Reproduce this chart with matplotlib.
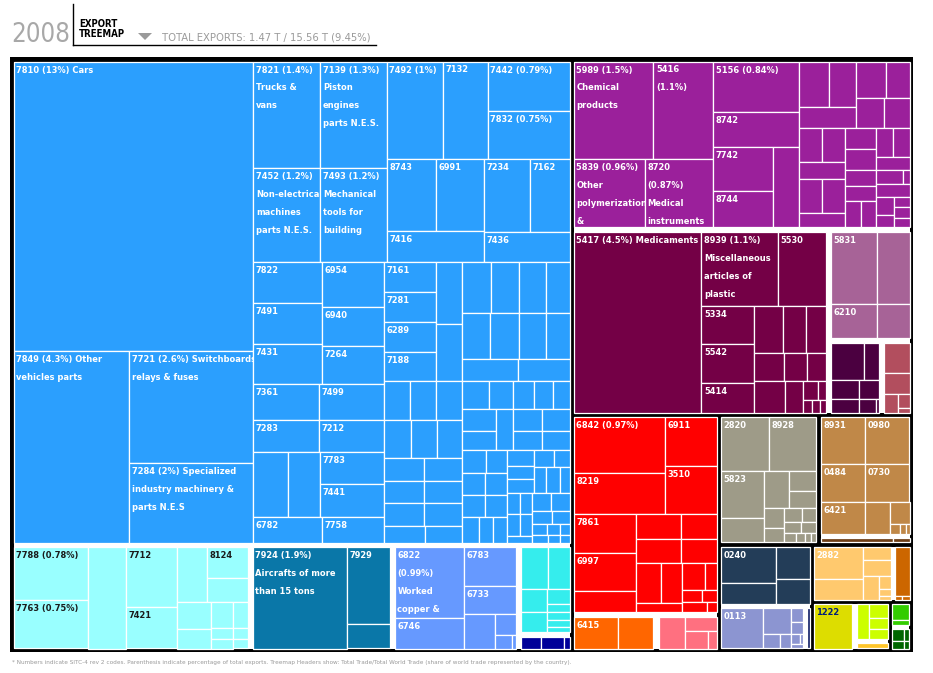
import matplotlib
matplotlib.use("Agg")
import matplotlib.pyplot as plt
from matplotlib import font_manager as fm
from matplotlib.patches import Rectangle, Polygon

# ---- header texts ----
YEAR = "2008"
TITLE = "EXPORT\nTREEMAP"
TOTALS = "TOTAL EXPORTS: 1.47 T / 15.56 T (9.45%)"
FOOTNOTE = ("* Numbers indicate SITC-4 rev 2 codes. Parenthesis indicate percentage of total exports. "
            "Treemap Headers show: Total Trade/Total World Trade (share of world trade represented by the country).")

# ---- data: share of total exports (%) per SITC-4 product ----
machinery_values = [
    12.70, 4.08, 2.56, 1.83,
    1.31, 1.30, 1.16, 1.15, 1.00, 0.80, 0.74, 0.72, 0.65, 0.64, 0.57, 0.62, 0.53, 0.48,
    0.52, 0.51, 0.51, 0.50, 0.44, 0.43, 0.43, 0.39, 0.42, 0.38, 0.42, 0.38, 0.38, 0.38, 0.33, 0.30,
    0.29, 0.29, 0.28, 0.28, 0.29, 0.27, 0.27, 0.26, 0.26, 0.22, 0.24, 0.24, 0.23, 0.20, 0.22, 0.20,
    0.19, 0.19, 0.19, 0.19, 0.18, 0.18, 0.17, 0.16, 0.17, 0.16, 0.17, 0.16, 0.13, 0.12,
    0.14, 0.13, 0.11, 0.10, 0.09, 0.13, 0.12, 0.13, 0.11, 0.11, 0.10, 0.10,
    0.10, 0.09, 0.09, 0.09, 0.09, 0.09, 0.08, 0.07, 0.07,
    0.075, 0.065, 0.065, 0.065, 0.05, 0.056, 0.065, 0.047,
    0.05, 0.045, 0.05, 0.045, 0.035,
    0.065, 0.06, 0.05, 0.045, 0.03, 0.025, 0.02, 0.025, 0.02, 0.015,
]
machinery_labels = [
    "7810 (13%) Cars", "7849 (4.3%) Other\nvehicles parts", "7721 (2.6%) Switchboards,\nrelays & fuses",
    "7284 (2%) Specialized\nindustry machinery &\nparts N.E.S",
    "7821 (1.4%)\nTrucks &\nvans", "7139 (1.3%)\nPiston\nengines\nparts N.E.S.",
    "7452 (1.2%)\nNon-electrical\nmachines\nparts N.E.S.", "7493 (1.2%)\nMechanical\ntools for\nbuilding",
    "7492 (1%)", "7132", "7442 (0.79%)", "7832 (0.75%)", "8743", "6991", "7416", "7234", "7162", "7436",
    "7822", "7491", "7431", "6954", "6940", "7264", "7361", "7283", "7499", "7212", "", "",
    "7783", "7441", "6782", "7758", "7161", "7281", "6289", "7188",
]
cyan_values = [0.72, 0.66, 0.70, 0.55, 0.39, 0.30, 0.23, 0.18, 0.17, 0.12, 0.107, 0.045, 0.041, 0.068, 0.029, 0.026]
cyan_labels = ["7788 (0.78%)", "7763 (0.75%)", "", "7712", "7421", "", "8124"]
teal_values = [1.76, 0.60, 0.19]
teal_labels = ["7924 (1.9%)\nAircrafts of more\nthan 15 tons", "7929"]
peri_values = [0.90, 0.38, 0.37, 0.26, 0.20, 0.082, 0.041, 0.008]
peri_labels = ["6822\n(0.99%)\nWorked\ncopper &", "6746", "6783", "6733"]
turq_values = [0.207, 0.169, 0.112, 0.064, 0.034, 0.092, 0.034, 0.026, 0.021]
navy_values = [0.045, 0.049, 0.013]

chem_values = [1.43, 1.07, 0.88, 0.85, 0.79, 0.56, 0.48, 0.40, 0.37,
               0.25, 0.23, 0.22, 0.20, 0.155, 0.157, 0.14,
               0.146, 0.146, 0.146, 0.142, 0.142, 0.12, 0.122, 0.122, 0.087, 0.087, 0.078, 0.073,
               0.092, 0.087, 0.08, 0.068, 0.018, 0.074, 0.06, 0.04, 0.03, 0.03, 0.025]
chem_labels = ["5989 (1.5%)\nChemical\nproducts", "5416\n(1.1%)", "5839 (0.96%)\nOther\npolymerization\n&",
               "8720\n(0.87%)\nMedical\ninstruments", "5156 (0.84%)", "8742", "7742", "8744"]
medic_values = [4.25, 1.04, 0.65, 0.37, 0.37, 0.29, 0.255, 0.20, 0.176, 0.157, 0.12, 0.10,
                0.185, 0.105, 0.05, 0.03, 0.02, 0.02, 0.015]
medic_labels = ["5417 (4.5%) Medicaments", "8939 (1.1%)\nMiscellaneous\narticles of\nplastic",
                "5530", "5334", "5542", "5414"]
mauve_values = [0.60, 0.43, 0.29, 0.21]
mauve_labels = ["5831", "", "6210"]
plum_values = [0.22, 0.10, 0.10, 0.071, 0.073, 0.047, 0.008]
rose_values = [0.136, 0.098, 0.046, 0.031, 0.011]

red_values = [0.93, 0.69, 0.46, 0.46, 0.45, 0.44, 0.24, 0.21, 0.17, 0.20, 0.16,
              0.18, 0.15, 0.08, 0.11, 0.06, 0.045, 0.033, 0.05, 0.02]
red_labels = ["6842 (0.97%)", "8219", "6911", "3510", "7861", "6997"]
orange_values = [0.25, 0.20]
orange_labels = ["6415"]
pink_values = [0.15, 0.078, 0.077, 0.03]
gray_values = [0.47, 0.47, 0.37, 0.19, 0.166, 0.097, 0.083, 0.071, 0.051,
               0.045, 0.036, 0.035, 0.03, 0.02, 0.015, 0.01, 0.008]
gray_labels = ["2820", "8928", "5823"]
brown_values = [0.38, 0.38, 0.31, 0.31, 0.26, 0.145, 0.078, 0.017, 0.01, 0.007]
brown_labels = ["8931", "0980", "0484", "0730", "6421"]
darkbrown_values = [0.054, 0.012]
slate_values = [0.36, 0.22, 0.20, 0.155]
slate_labels = ["0240"]
lavender_values = [0.31, 0.126, 0.045, 0.028, 0.031, 0.025, 0.018, 0.006, 0.009]
lavender_labels = ["0113"]
ink_values = [0.024]
apricot_values = [0.29, 0.19, 0.068, 0.078, 0.07, 0.03, 0.015, 0.01]
apricot_labels = ["2882"]
burnt_values = [0.13, 0.005, 0.006]
yellow_values = [0.31]
yellow_labels = ["1222"]
lime_values = [0.081, 0.05, 0.039, 0.035]
gold_values = [0.029]
green_values = [0.05, 0.016]
darkgreen_values = [0.027, 0.016, 0.011, 0.007]


def H(*k):
    return ("h", k)


def V(*k):
    return ("v", k)


# how the products of each group are nested (ints = a run of that many cells)
m_cars = V(1, H(1, 2))
m_top = H(V(2, 2), V(H(1, 1, 2), H(V(2, 1), V(2, 1))))
m_c1 = V(H(3, 3), H(2, 2), H(1, 1, 2), 2)
m_c2r = V(V(5, H(2, 1, V(2, 2))),
          H(V(2, 2, 2, 3), V(H(3, V(2, 3)), H(V(2, 2, 1), V(2, 2, 3, 3)))))
m_c2 = V(H(4, 2, V(4, 4, 2)), H(V(3, 3, 2, 2, 2, 2), m_c2r))
machinery_shape = H(m_cars, V(m_top, H(m_c1, m_c2)))
chem_shape = H(V(2, 2), V(1, 1, H(2, 1)),
               V(H(V(2, 1), V(2, 2)), H(V(2, 1, 2, 1), V(1, 1, 1, 1, 2), V(2, 1, 2, 1, H(2, 3)))))

GROUPS = {
    "machinery": (machinery_shape, machinery_values, machinery_labels, "#2b9ffe", "white"),
    "cyan": (H(2, 1, 2, V(H(1, 2), H(2, 3, 3))), cyan_values, cyan_labels, "#99ffff", "#1a1a1a"),
    "teal": (H(1, 2), teal_values, teal_labels, "#0a77a8", "white"),
    "periwinkle": (H(2, V(1, 1, H(1, V(1, 2)))), peri_values, peri_labels, "#6699ff", "white"),
    "turquoise": (V(2, H(1, 2), H(1, 3)), turq_values, [], "#35eded", "white"),
    "navy": (H(1, 1, 1), navy_values, [], "#000099", "white"),
    "chem": (chem_shape, chem_values, chem_labels, "#9b209b", "white"),
    "medic": (H(1, V(2, H(3, V(3, 3, H(1, 1, V(2, 3)))))), medic_values, medic_labels, "#740046", "white"),
    "mauve": (V(2, 2), mauve_values, mauve_labels, "#a76397", "white"),
    "plum": (V(2, 2, 3), plum_values, [], "#4b0040", "white"),
    "rose": (V(1, 1, H(1, 2)), rose_values, [], "#b24e5e", "white"),
    "red": (V(H(2, 2), H(3, V(2, 2, H(V(2, 1), V(2, 2, 2))))), red_values, red_labels, "#ff0000", "white"),
    "orange": (H(1, 1), orange_values, orange_labels, "#ff6600", "white"),
    "pink": (H(1, V(1, 2)), pink_values, [], "#ff7080", "white"),
    "gray": (V(2, H(2, V(H(1, 2), H(2, V(2, 2, 4))))), gray_values, gray_labels, "#9e9b88", "white"),
    "brown": (V(2, 2, H(1, 1, V(1, 3))), brown_values, brown_labels, "#c08848", "white"),
    "darkbrown": (H(1, 1), darkbrown_values, [], "#6e3e16", "white"),
    "slate": (H(2, 2), slate_values, slate_labels, "#233d58", "white"),
    "lavender": (H(1, V(1, 2), V(1, 1, 2, 1)), lavender_values, lavender_labels, "#8c95d1", "white"),
    "ink": (V(1), ink_values, [], "#1c2a6e", "white"),
    "apricot": (H(2, V(1, 1, H(1, 3))), apricot_values, apricot_labels, "#ffc96e", "white"),
    "burnt": (V(1, 2), burnt_values, [], "#cc6600", "white"),
    "yellow": (V(1), yellow_values, yellow_labels, "#dddd00", "#001f7a"),
    "lime": (H(1, 3), lime_values, [], "#ccff00", "white"),
    "gold": (V(1), gold_values, [], "#ffc52a", "white"),
    "green": (V(1, 1), green_values, [], "#33cc00", "white"),
    "darkgreen": (H(2, 2), darkgreen_values, [], "#006600", "white"),
}

K, Wh = "black", "white"
left = ("v", ["machinery", ("h", ["cyan", "teal", "periwinkle", ("v", ["turquoise", "navy"], 5, Wh)], 5, Wh)], 4, Wh)
purple = ("v", ["chem", ("h", ["medic", ("v", ["mauve", ("h", ["plum", "rose"], 5, Wh)], 5, Wh)], 5, Wh)], 5, Wh)
redsec = ("v", ["red", ("h", ["orange", "pink"], 6, Wh)], 5, Wh)
brownsec = ("v", ["brown", "darkbrown"], 4, Wh)
navlav = ("v", ["slate", ("h", ["lavender", "ink"], 4, Wh)], 4, Wh)
lorsec = ("h", ["apricot", "burnt"], 4, Wh)
yelsec = ("h", ["yellow", ("v", ["lime", "gold"], 4, Wh)], 5, Wh)
greensec = ("v", ["green", "darkgreen"], 4, Wh)
rest = ("v", [("h", ["gray", brownsec], 5, K),
              ("h", [navlav, ("v", [lorsec, ("h", [yelsec, greensec], 4, K)], 4, K)], 4, K)], 5, K)
right = ("v", [purple, ("h", [redsec, rest], 4, K)], 4, K)
ROOT = ("h", [left, right], 4, K)


def build(shape, ctx, grp, it):
    _, vals, labs, col, tc = grp
    if isinstance(shape, int):
        if shape == 1:
            i = next(it)
            return {"leaf": True, "v": vals[i], "lab": labs[i] if i < len(labs) else "", "c": col, "tc": tc}
        shape = ("v" if ctx == "h" else "h", (1,) * shape)
    kind, kids = shape
    return {"leaf": False, "kind": kind, "kids": [build(k, kind, grp, it) for k in kids],
            "gap": 0, "gc": None, "extra": 0.0}


def arrange(a):
    if isinstance(a, str):
        g = GROUPS[a]
        return build(g[0], "v", g, iter(range(len(g[1]))))
    kind, kids, gap, gc = a
    return {"leaf": False, "kind": kind, "kids": [arrange(k) for k in kids], "gap": gap, "gc": gc, "extra": 0.0}


def vsum(n):
    return n["v"] if n["leaf"] else sum(vsum(c) for c in n["kids"])


def place(n, x, y, w, h, k, out):
    if n["leaf"]:
        out.append((x, y, w, h, n))
        return
    if n["gc"]:
        out.append((x, y, w, h, n))
    kids, g = n["kids"], n["gap"]
    horiz = n["kind"] == "h"
    avail = max((w if horiz else h) - g * (len(kids) - 1), 0)
    wts = [k * vsum(c) + (0 if c["leaf"] else c["extra"]) for c in kids]
    tot = sum(wts)
    p = x if horiz else y
    for c, cw in zip(kids, wts):
        size = avail * cw / tot
        if horiz:
            place(c, p, y, size, h, k, out)
        else:
            place(c, x, p, w, size, k, out)
        p += size + g
    n["extra"] = g * (len(kids) - 1) * (h if horiz else w) + sum(c["extra"] for c in kids if not c["leaf"])


root = arrange(ROOT)
X0, Y0, X1, Y1 = 14, 61.5, 909.5, 648.5
for _ in range(6):
    k = ((X1 - X0) * (Y1 - Y0) - root["extra"]) / vsum(root)
    cells = []
    place(root, X0, Y0, X1 - X0, Y1 - Y0, k, cells)


# a condensed face looks closest to the original; use one if the system has it
def find_font(bold):
    for f in fm.fontManager.ttflist:
        st = str(f.stretch).lower()
        narrow = ("narrow" in f.name.lower() or "condensed" in f.name.lower()
                  or "condensed" in st or (st.isdigit() and int(st) < 500))
        wt = f.weight if isinstance(f.weight, int) else {"bold": 700}.get(str(f.weight), 400)
        if narrow and f.style == "normal" and (wt >= 600) == bold:
            return fm.FontProperties(fname=f.fname)
    return fm.FontProperties(family="Liberation Sans", weight="bold" if bold else "normal")


FP_BOLD = find_font(True)
FP_REG = find_font(False)

fig = plt.figure(figsize=(9.33, 6.73), dpi=100)
ax = fig.add_axes([0, 0, 1, 1])
ax.set_xlim(0, 933)
ax.set_ylim(673, 0)
ax.axis("off")
renderer = fig.canvas.get_renderer()


def sized(fp, sample, width_px, cap):
    f = fp.copy()
    f.set_size(10)
    t = ax.text(0, 0, sample, fontproperties=f)
    w = t.get_window_extent(renderer).width
    t.remove()
    f.set_size(min(cap, 10 * width_px / w))
    return f


LABEL_FP = sized(FP_BOLD, "7810 (13%) Cars", 77, 9.5)
LINESP = 19.5 / (0.93 * LABEL_FP.get_size() * 100 / 72)

ax.add_patch(Rectangle((10, 57), 903, 594.5, facecolor="black", edgecolor="none"))
for x, y, w, h, n in cells:
    if not n["leaf"]:
        ax.add_patch(Rectangle((x, y), w, h, facecolor=n["gc"], edgecolor="none"))
        continue
    r = Rectangle((x, y), w, h, facecolor=n["c"], edgecolor="white", lw=0.9)
    ax.add_patch(r)
    if n["lab"]:
        t = ax.text(x + 2.5, y + 4, n["lab"], ha="left", va="top", color=n["tc"],
                    fontproperties=LABEL_FP, linespacing=LINESP, clip_on=True)
        t.set_clip_path(r)

# header
ax.text(11, 42, YEAR, fontproperties=sized(FP_REG, YEAR, 59, 34), color="#a8a8a8",
        va="baseline", ha="left")
ax.plot([72.5, 72.5], [4, 45], color="black", lw=1)
ax.plot([72.5, 376], [44.5, 44.5], color="black", lw=1)
ax.text(79, 37, TITLE, fontproperties=sized(FP_BOLD, "TREEMAP", 46, 10), color="black",
        va="baseline", ha="left", linespacing=1.05)
ax.add_patch(Polygon([(138, 33), (152, 33), (145, 40)], closed=True, facecolor="#9a9a9a", edgecolor="none"))
ax.text(162, 40, TOTALS, fontproperties=sized(FP_REG, TOTALS, 209, 10), color="#9a9a9a",
        va="baseline", ha="left")
ax.text(12, 664, FOOTNOTE, fontproperties=sized(FP_REG, FOOTNOTE, 553, 7), color="#9a9a9a",
        va="baseline", ha="left")

fig.savefig("out.png", dpi=100)
